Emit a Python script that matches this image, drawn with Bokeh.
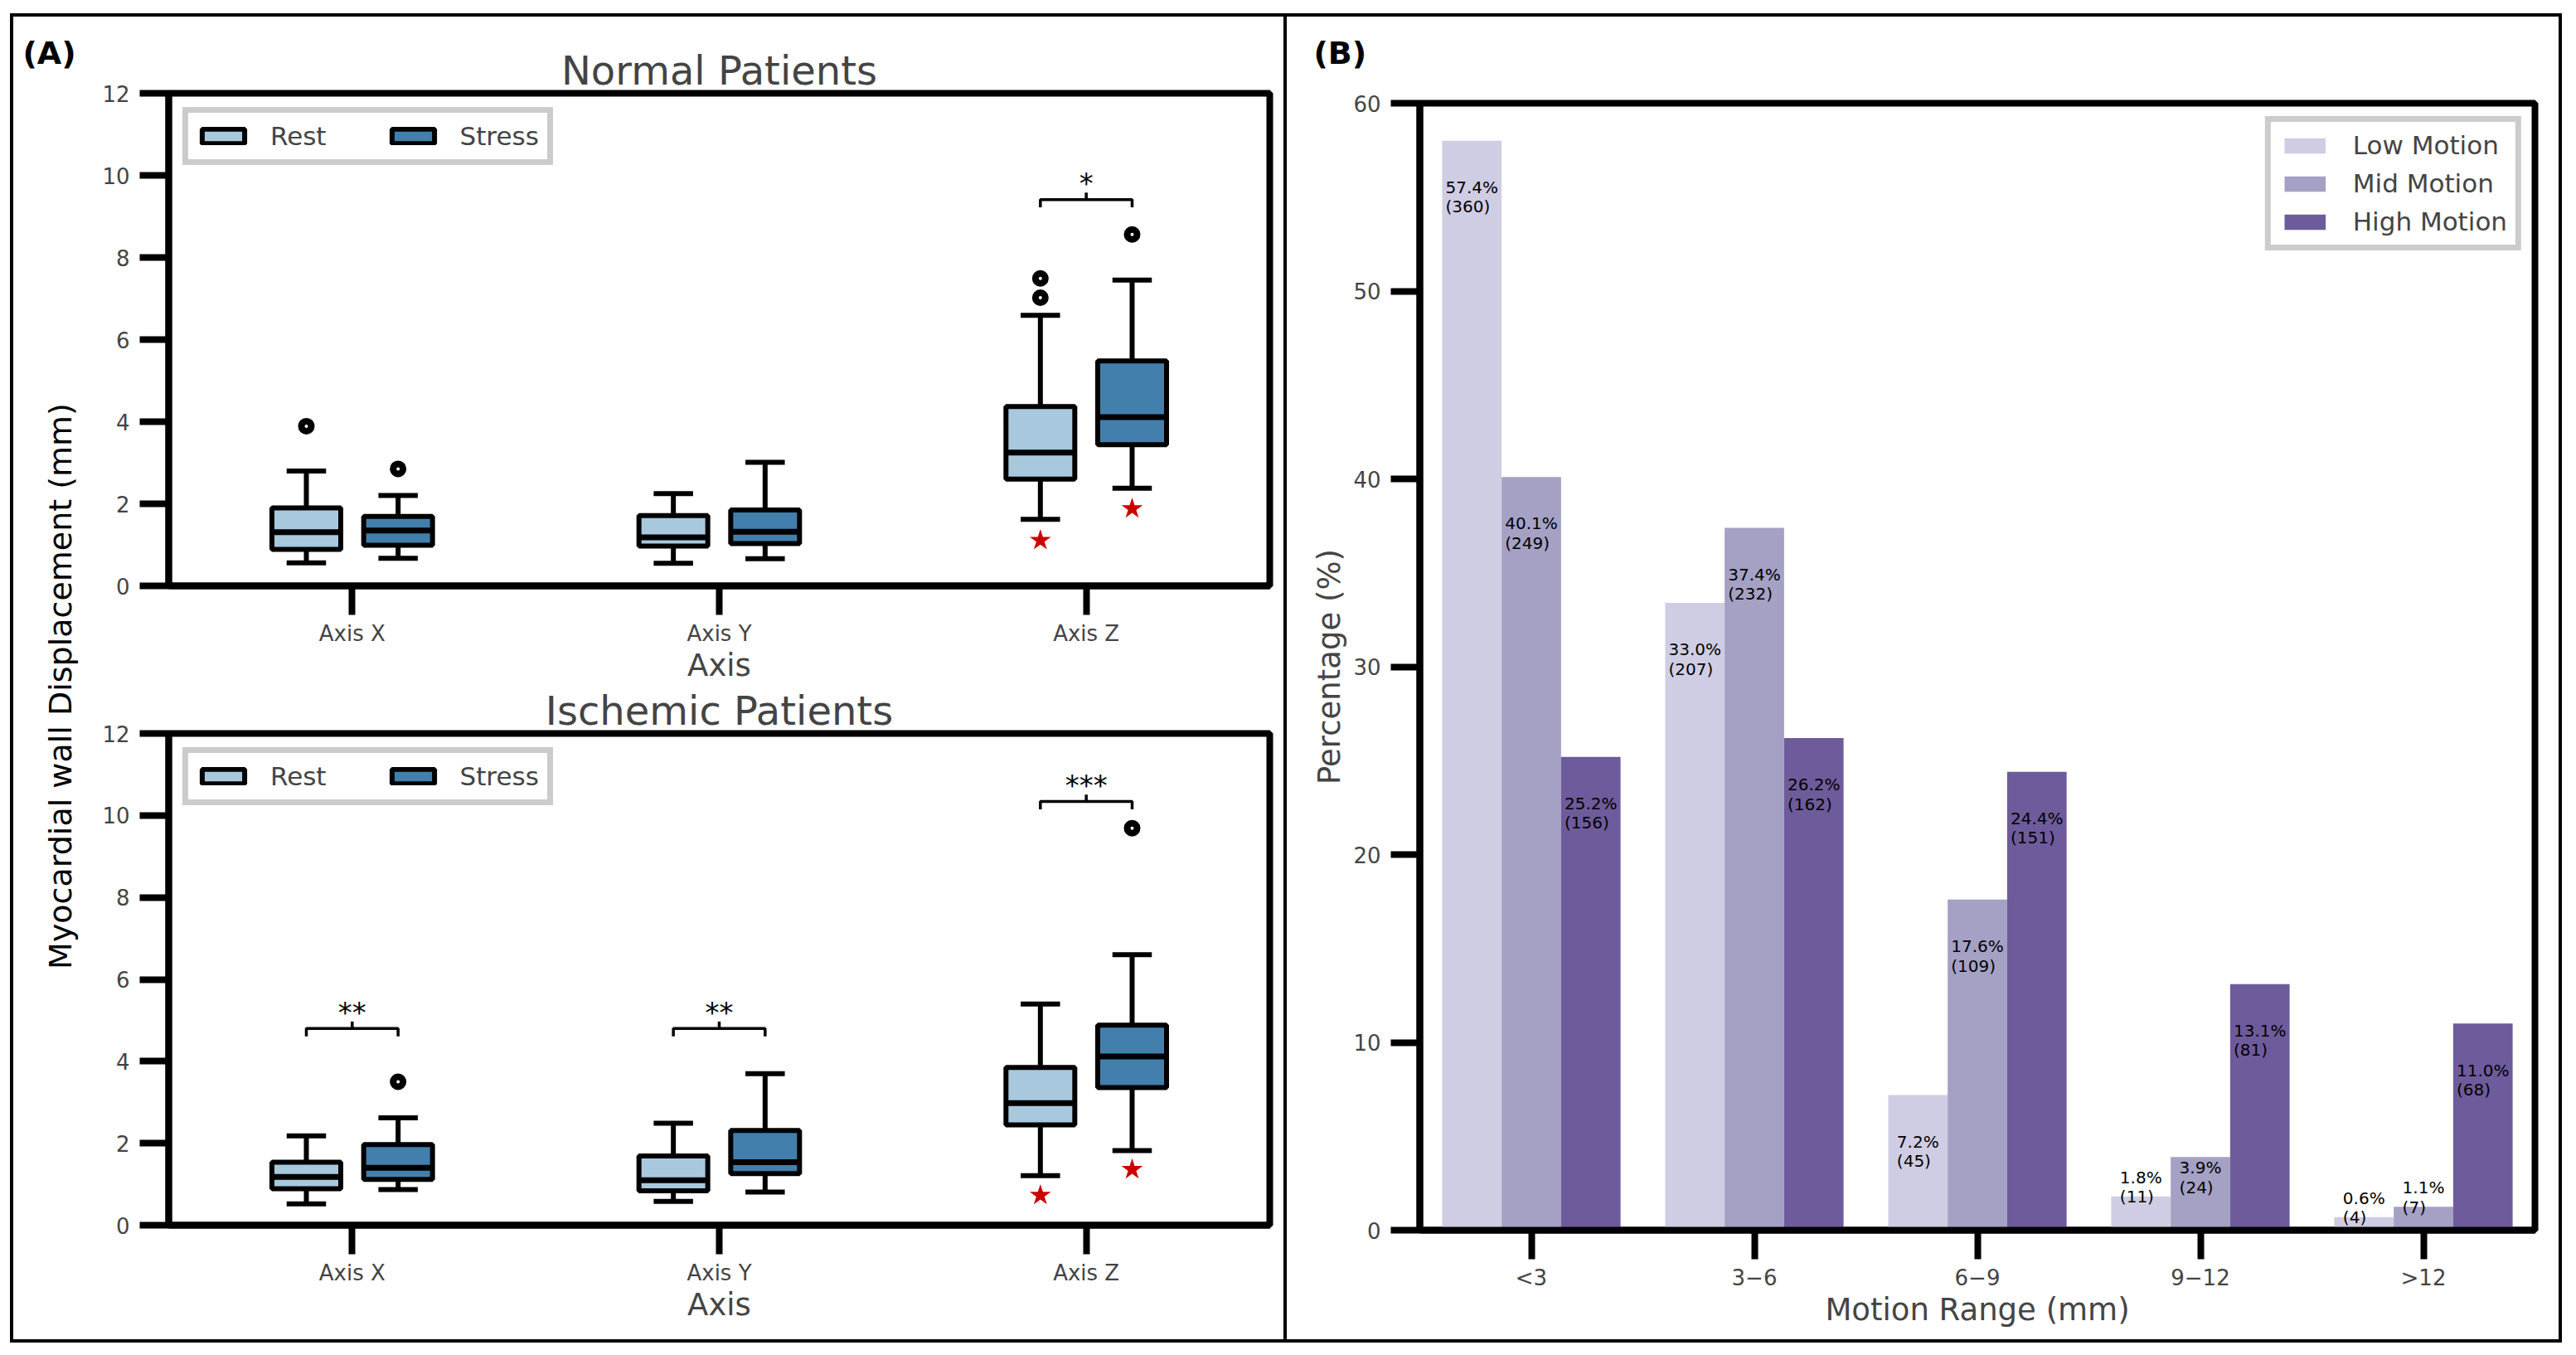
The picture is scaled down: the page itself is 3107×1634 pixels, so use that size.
import numpy as np
from bokeh.plotting import figure
from bokeh.models import (ColumnDataSource, Range1d, FixedTicker, Legend, LegendItem, Div)
from bokeh.layouts import row, column
from bokeh.embed import file_html
from bokeh.resources import INLINE
from bokeh.core.properties import value

FONT = "DejaVu Sans"

# ---------------- data: panel A (box plots) ----------------
axes_names = ["Axis X", "Axis Y", "Axis Z"]
# [lower whisker, Q1, median, Q3, upper whisker] for each axis
normal_rest = [[0.56, 0.89, 1.31, 1.90, 2.80], [0.55, 0.97, 1.18, 1.71, 2.25], [1.62, 2.60, 3.25, 4.37, 6.59]]
normal_stress = [[0.67, 0.99, 1.35, 1.69, 2.20], [0.66, 1.03, 1.32, 1.85, 3.01], [2.38, 3.44, 4.11, 5.48, 7.45]]
ischemic_rest = [[0.52, 0.89, 1.18, 1.54, 2.18], [0.58, 0.84, 1.10, 1.69, 2.49], [1.21, 2.45, 2.98, 3.85, 5.40]]
ischemic_stress = [[0.87, 1.12, 1.40, 1.97, 2.62], [0.81, 1.26, 1.54, 2.31, 3.70], [1.82, 3.36, 4.12, 4.88, 6.60]]

normal_rest_outliers = [[3.89], [], [7.02, 7.49]]
normal_stress_outliers = [[2.85], [], [8.56]]
ischemic_rest_outliers = [[], [], []]
ischemic_stress_outliers = [[3.50], [], [9.69]]

normal_rest_stars = [[], [], [1.11]]
normal_stress_stars = [[], [], [1.88]]
ischemic_rest_stars = [[], [], [0.73]]
ischemic_stress_stars = [[], [], [1.36]]

normal_sig = [("Axis Z", 9.41, "*")]
ischemic_sig = [("Axis X", 4.80, "**"), ("Axis Y", 4.80, "**"), ("Axis Z", 10.34, "***")]

rest_color = "#a8c8dd"
stress_color = "#427fac"

# ---------------- data: panel B (bar chart) ----------------
motion_ranges = ["<3", "3\u22126", "6\u22129", "9\u221212", ">12"]
low_heights = [58.0, 33.4, 7.2, 1.8, 0.7]
mid_heights = [40.1, 37.4, 17.6, 3.9, 1.25]
high_heights = [25.2, 26.2, 24.4, 13.1, 11.0]
low_pct = [57.4, 33.0, 7.2, 1.8, 0.6]
mid_pct = [40.1, 37.4, 17.6, 3.9, 1.1]
high_pct = [25.2, 26.2, 24.4, 13.1, 11.0]
low_counts = [360, 207, 45, 11, 4]
mid_counts = [249, 232, 109, 24, 7]
high_counts = [156, 162, 151, 81, 68]
series_names = ["Low Motion", "Mid Motion", "High Motion"]
series_colors = ["#cfcde3", "#a4a1c4", "#6e5b9b"]

HUE_OFF = 0.125
BOX_W = 0.1875
BAR_W = 0.8 / 3


def style_axes(p, xlabel, ylabel=None):
    for ax in p.axis:
        ax.axis_line_width = 8
        ax.axis_line_color = "black"
        ax.major_tick_line_width = 8
        ax.major_tick_out = 35
        ax.major_tick_in = 0
        ax.minor_tick_line_color = None
        ax.major_label_text_font = FONT
        ax.major_label_text_font_size = "26px"
        ax.axis_label_text_font = FONT
        ax.axis_label_text_font_size = "37px"
        ax.axis_label_text_font_style = "normal"
    p.xaxis.major_label_standoff = 7
    p.yaxis.major_label_standoff = 12
    p.xaxis.axis_label = xlabel
    p.xaxis.axis_label_standoff = -1
    if ylabel:
        p.yaxis.axis_label = ylabel
        p.yaxis.axis_label_standoff = 4
    p.grid.visible = False
    p.outline_line_color = "black"
    p.outline_line_width = 8
    p.outline_line_alpha = 1


def box_series(p, stats, outliers, stars, xoff, color):
    x = [i + xoff for i in range(len(stats))]
    low, q1, med, q3, high = (list(c) for c in zip(*stats))
    src = ColumnDataSource(dict(
        x=x, low=low, q1=q1, med=med, q3=q3, high=high,
        cl=[v - BOX_W / 4 for v in x], cr=[v + BOX_W / 4 for v in x],
        bl=[v - BOX_W / 2 for v in x], br=[v + BOX_W / 2 for v in x]))
    p.segment(x0="x", y0="low", x1="x", y1="q1", source=src, line_width=6, line_color="black")
    p.segment(x0="x", y0="q3", x1="x", y1="high", source=src, line_width=6, line_color="black")
    p.segment(x0="cl", y0="low", x1="cr", y1="low", source=src, line_width=6,
              line_color="black", line_cap="square")
    p.segment(x0="cl", y0="high", x1="cr", y1="high", source=src, line_width=6,
              line_color="black", line_cap="square")
    r = p.vbar(x="x", width=BOX_W, bottom="q1", top="q3", source=src,
               fill_color=color, line_color="black", line_width=6)
    p.segment(x0="bl", y0="med", x1="br", y1="med", source=src, line_width=7, line_color="black")
    ox = [x[i] for i, vals in enumerate(outliers) for _ in vals]
    oy = [v for vals in outliers for v in vals]
    if ox:
        p.scatter(ox, oy, marker="circle", size=12, fill_color="white",
                  line_color="black", line_width=8)
    sx = [x[i] for i, vals in enumerate(stars) for _ in vals]
    sy = [v for vals in stars for v in vals]
    if sx:
        p.scatter(sx, sy, marker="star", size=27, fill_color="#cc0000", line_color=None)
    return r


def brackets(p, sig):
    for name, y, txt in sig:
        i = axes_names.index(name)
        x0, x1 = i - HUE_OFF, i + HUE_OFF
        p.line([x0, x0, x1, x1], [y - 0.19, y, y, y - 0.19], line_width=3.5, line_color="black")
        p.segment(x0=[i], y0=[y], x1=[i], y1=[y + 0.17], line_width=3.5, line_color="black")
        p.text(x=[i], y=[y + 0.40], text=[txt], text_align="center", text_baseline="alphabetic",
               text_font=value(FONT), text_font_size="34px", text_color="black")


def box_panel(title, height, top, bottom, rest, stress, r_out, s_out, r_st, s_st, sig):
    p = figure(width=1448, height=height, x_range=Range1d(-0.5, 2.5), y_range=Range1d(0, 12),
               min_border_left=103, min_border_right=17, min_border_top=top,
               min_border_bottom=bottom, toolbar_location=None, output_backend="svg",
               title=title)
    p.title.align = "center"
    p.title.text_font = FONT
    p.title.text_font_size = "48px"
    p.title.text_font_style = "normal"
    p.title.standoff = 0
    style_axes(p, "Axis")
    p.xaxis.ticker = FixedTicker(ticks=[0, 1, 2])
    p.xaxis.major_label_overrides = {i: n for i, n in enumerate(axes_names)}
    p.yaxis.ticker = FixedTicker(ticks=[0, 2, 4, 6, 8, 10, 12])
    rr = box_series(p, rest, r_out, r_st, -HUE_OFF, rest_color)
    rs = box_series(p, stress, s_out, s_st, HUE_OFF, stress_color)
    brackets(p, sig)
    leg = Legend(items=[LegendItem(label="Rest", renderers=[rr]),
                        LegendItem(label="Stress", renderers=[rs])],
                 orientation="horizontal", location="top_left", margin=17, padding=10,
                 spacing=72, label_standoff=25, glyph_width=64, glyph_height=22,
                 label_text_font=FONT, label_text_font_size="31px",
                 border_line_color="#cccccc", border_line_width=7, border_line_alpha=1,
                 background_fill_color="white", background_fill_alpha=1)
    p.add_layout(leg)
    return p


top_fig = box_panel("Normal Patients", 806, 92, 120, normal_rest, normal_stress,
                    normal_rest_outliers, normal_stress_outliers,
                    normal_rest_stars, normal_stress_stars, normal_sig)
bot_fig = box_panel("Ischemic Patients", 789, 57, 138, ischemic_rest, ischemic_stress,
                    ischemic_rest_outliers, ischemic_stress_outliers,
                    ischemic_rest_stars, ischemic_stress_stars, ischemic_sig)


def text_canvas(width, height):
    f = figure(width=width, height=height, x_range=Range1d(0, width), y_range=Range1d(0, height),
               min_border=0, x_axis_location=None, y_axis_location=None,
               toolbar_location=None, output_backend="svg")
    f.grid.visible = False
    f.outline_line_color = None
    return f


def panel_tag(f, x, y, txt):
    f.text(x=[x], y=[y], text=[txt], text_align="left", text_baseline="middle",
           text_font=value(FONT), text_font_size="38px", text_font_style="bold",
           text_color="black")


# shared y label and panel tag for panel A
ylab_a = text_canvas(84, 1595)
ylab_a.text(x=[56], y=[788], text=["Myocardial wall Displacement (mm)"], angle=np.pi / 2,
            text_align="center", text_baseline="middle", text_font=value(FONT),
            text_font_size="38px", text_color="black")
panel_tag(ylab_a, 11, 1552, "(A)")

# panel tag strip for panel B
tag_b = text_canvas(1534, 80)
panel_tag(tag_b, 32, 37, "(B)")

# ---------------- panel B ----------------
bp = figure(width=1534, height=1515, x_range=Range1d(-0.5, 4.5), y_range=Range1d(0, 60),
            min_border_left=160, min_border_right=29, min_border_top=24, min_border_bottom=132,
            toolbar_location=None, output_backend="svg")
style_axes(bp, "Motion Range (mm)", "Percentage (%)")
bp.xaxis.ticker = FixedTicker(ticks=list(range(len(motion_ranges))))
bp.xaxis.major_label_overrides = {i: n for i, n in enumerate(motion_ranges)}
bp.yaxis.ticker = FixedTicker(ticks=[0, 10, 20, 30, 40, 50, 60])


def label_center(h):
    if h > 5:
        return h - 3.0
    if h > 3:
        return h - 1.1
    return h + 0.5


bar_items = []
all_heights = [low_heights, mid_heights, high_heights]
all_pct = [low_pct, mid_pct, high_pct]
all_counts = [low_counts, mid_counts, high_counts]
for k, (name, hts, pcts, cnts, col) in enumerate(zip(series_names, all_heights, all_pct,
                                                     all_counts, series_colors)):
    off = (k - 1) * BAR_W
    xs = [i + off for i in range(len(hts))]
    r = bp.vbar(x=xs, top=hts, width=BAR_W, fill_color=col, line_color=None)
    bar_items.append(LegendItem(label=name, renderers=[r]))
    l1 = [f"{v:.1f}%" for v in pcts]
    l2 = [f"({c})" for c in cnts]
    xo = [-((len(s) - 2) * 12.72 + 6.36 + 19.0) / 2 for s in l1]
    src = ColumnDataSource(dict(x=xs, y=[label_center(h) for h in hts], l1=l1, l2=l2, xo=xo))
    bp.text(x="x", y="y", text="l1", x_offset="xo", y_offset=-11.7, source=src,
            text_align="left", text_baseline="middle", text_font=value(FONT),
            text_font_size="20px", text_color="black")
    bp.text(x="x", y="y", text="l2", x_offset="xo", y_offset=11.7, source=src,
            text_align="left", text_baseline="middle", text_font=value(FONT),
            text_font_size="20px", text_color="black")

bleg = Legend(items=bar_items, orientation="vertical", location="top_right", margin=16,
              padding=10, spacing=10, label_standoff=27, glyph_width=62, glyph_height=23,
              label_text_font=FONT, label_text_font_size="31px",
              border_line_color="#cccccc", border_line_width=7, border_line_alpha=1,
              background_fill_color="white", background_fill_alpha=1)
bp.add_layout(bleg)


def block(w, h, color):
    return Div(text="", width=w, height=h, margin=0, styles={"background-color": color})


inner = row(block(4, 1595, "black"), column(ylab_a), column(top_fig, bot_fig),
            block(4, 1595, "black"), column(row(tag_b), row(bp)), block(4, 1595, "black"))
framed = column(block(3078, 4, "black"), inner, block(3078, 4, "black"))
page = column(block(3090, 16, "white"), row(block(12, 1603, "white"), framed))

open("out.html", "w").write(file_html(page, INLINE))
